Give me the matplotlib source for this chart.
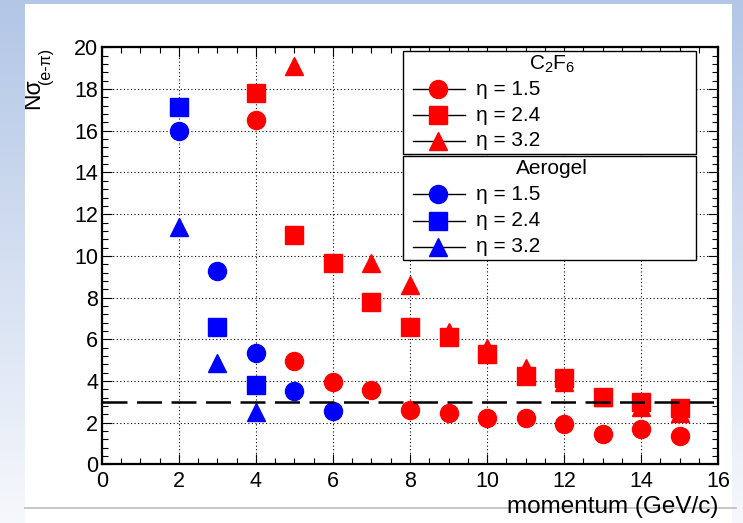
import numpy as np
import matplotlib
matplotlib.use("Agg")
import matplotlib.pyplot as plt
from matplotlib.patches import Rectangle
from matplotlib.lines import Line2D
from matplotlib.transforms import Affine2D
from matplotlib.ticker import MultipleLocator

plt.rcParams['font.family'] = ['Liberation Sans', 'DejaVu Sans']
plt.rcParams['mathtext.fontset'] = 'custom'
plt.rcParams['mathtext.rm'] = 'Liberation Sans'
plt.rcParams['mathtext.it'] = 'Liberation Sans'
plt.rcParams['mathtext.sf'] = 'Liberation Sans'

# ---------------- data ----------------
c2f6_p15 = [4, 5, 6, 7, 8, 9, 10, 11, 12, 13, 14, 15]
c2f6_eta15 = [16.5, 4.96, 3.97, 3.55, 2.61, 2.48, 2.21, 2.24, 1.94, 1.46, 1.68, 1.36]
c2f6_p24 = [4, 5, 6, 7, 8, 9, 10, 11, 12, 13, 14, 15]
c2f6_eta24 = [17.83, 11.0, 9.67, 7.77, 6.57, 6.12, 5.29, 4.24, 4.16, 3.23, 3.0, 2.7]
c2f6_p32 = [5, 7, 8, 9, 10, 11, 12, 13, 14, 15]
c2f6_eta32 = [19.1, 9.68, 8.6, 6.34, 5.57, 4.61, 3.97, 3.25, 2.77, 2.45]

aero_p15 = [2, 3, 4, 5, 6]
aero_eta15 = [16.0, 9.29, 5.33, 3.54, 2.56]
aero_p24 = [2, 3, 4]
aero_eta24 = [17.16, 6.6, 3.81]
aero_p32 = [2, 3, 4]
aero_eta32 = [11.4, 4.88, 2.53]

threshold = 3.0
eta_labels = ["η = 1.5", "η = 2.4", "η = 3.2"]
markers = ['o', 's', '^']
msizes = [13, 12.5, 12.5]
x_ticks = [0, 2, 4, 6, 8, 10, 12, 14, 16]
y_ticks = [0, 2, 4, 6, 8, 10, 12, 14, 16, 18, 20]

W, H = 743, 523
fig = plt.figure(figsize=(W / 100, H / 100), dpi=100)
pix = Affine2D().scale(1 / W, -1 / H).translate(0, 1) + fig.transFigure

# ---------------- background (slide) ----------------
bg = fig.add_axes([0, 0, 1, 1], zorder=-2)
bg.set_xlim(0, W)
bg.set_ylim(H, 0)
bg.axis('off')
top = np.array([178, 198, 230]) / 255
bot = np.array([246, 248, 252]) / 255
t = np.linspace(0, 1, 256)[:, None, None]
grad = top * (1 - t) + bot * t
bg.imshow(grad, extent=[0, W, H, 0], aspect='auto', interpolation='bilinear')
white = Rectangle((25, 4), 707, H - 4, facecolor='white', edgecolor='none', zorder=2)
bg.add_patch(white)
bg.plot([25, 736], [508, 508], color='#bdbdbd', lw=1.2, zorder=3)
ylab1 = bg.text(44, 109, 'Nσ', rotation=90, ha='right', va='bottom',
                fontsize=16.5, zorder=4, clip_on=True)
ylab1.set_clip_path(white)
ylab2 = bg.text(52.5, 48, '(e-π)', rotation=90, ha='right', va='top',
                fontsize=11.5, zorder=4, clip_on=True)
ylab2.set_clip_path(white)

# ---------------- main axes ----------------
x0, x1, y0, y1 = 101.7, 718.3, 47.4, 464.4
ax = fig.add_axes([x0 / W, 1 - y1 / H, (x1 - x0) / W, (y1 - y0) / H])
ax.set_xlim(0, 16)
ax.set_ylim(0, 20)
ax.set_xticks(x_ticks)
ax.set_yticks(y_ticks)
ax.xaxis.set_minor_locator(MultipleLocator(0.5))
ax.yaxis.set_minor_locator(MultipleLocator(0.4))
ax.tick_params(which='both', direction='in', top=True, right=True, width=0.8, labelsize=15.5)
ax.tick_params(which='major', length=7.5)
ax.tick_params(which='minor', length=4)
ax.tick_params(axis='x', pad=5)
ax.tick_params(axis='y', pad=2.5)
for s in ax.spines.values():
    s.set_linewidth(1.6)
ax.grid(which='major', color='black', linestyle=(0, (1, 2.2)), linewidth=0.8, zorder=1)
ax.set_axisbelow(True)

red, blue = '#ff0000', '#0000ff'
c2f6 = [(c2f6_p15, c2f6_eta15), (c2f6_p24, c2f6_eta24), (c2f6_p32, c2f6_eta32)]
aero = [(aero_p15, aero_eta15), (aero_p24, aero_eta24), (aero_p32, aero_eta32)]
for (px, py), m, ms in zip(c2f6, markers, msizes):
    ax.plot(px, py, linestyle='none', marker=m, ms=ms, color=red, mec=red, zorder=3)
for (px, py), m, ms in zip(aero, markers, msizes):
    ax.plot(px, py, linestyle='none', marker=m, ms=ms, color=blue, mec=blue, zorder=3)

ax.axhline(threshold, color='black', lw=1.8, dashes=(10, 3.8), zorder=4)

ax.set_xlabel('momentum (GeV/c)', fontsize=17.5, ha='right', va='baseline')
ax.xaxis.set_label_coords(718.5, 512.5, transform=pix)

# ---------------- legends ----------------
def legend_box(ytop, ybot, title, color, entry_y, title_y):
    fig.patches.append(Rectangle((403, ytop), 293, ybot - ytop, transform=pix,
                                 facecolor='white', edgecolor='black', lw=1.0, zorder=5))
    fig.text(552, title_y, title, transform=pix, ha='center', va='center', fontsize=15, zorder=6)
    for yy, lab, m, ms in zip(entry_y, eta_labels, markers, msizes):
        fig.lines.append(Line2D([413, 465], [yy, yy], transform=pix, color='black', lw=1.0, zorder=6))
        fig.lines.append(Line2D([438], [yy], transform=pix, marker=m, ms=ms, color=color,
                                mec=color, linestyle='none', zorder=7))
        fig.text(476, yy, lab, transform=pix, ha='left', va='center', fontsize=15, zorder=6)

legend_box(50.5, 154, r'$\mathregular{C_2F_6}$', red, [89.3, 115.3, 141], 64)
legend_box(156, 260, 'Aerogel', blue, [194.3, 221, 246.7], 168.3)

fig.savefig('out.png', dpi=100)
